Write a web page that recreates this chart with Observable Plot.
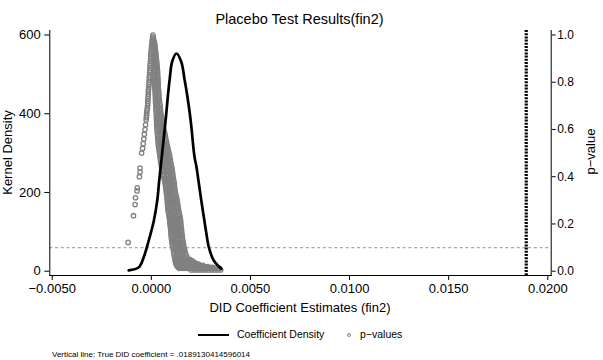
<!DOCTYPE html>
<html><head><meta charset="utf-8">
<script src="https://cdn.jsdelivr.net/npm/d3@7"></script>
<script src="https://cdn.jsdelivr.net/npm/@observablehq/plot@0.6"></script>
<style>
body{margin:0;background:#fff;}
#wrap{position:relative;width:603px;height:360px;overflow:hidden;font-family:"Liberation Sans",Arial,Helvetica,sans-serif;}
.t{position:absolute;white-space:nowrap;line-height:1;color:#000;}
</style></head><body>
<div id="wrap"></div>
<script>
// ---- texts ----
const title = "Placebo Test Results(fin2)";
const xTitle = "DID Coefficient Estimates (fin2)";
const yTitleLeft = "Kernel Density";
const yTitleRight = "p−value";
const legendLabels = ["Coefficient Density", "p−values"];
const note = "Vertical line: True DID coefficient = .0189130414596014";

// ---- reference values ----
const trueCoef = 0.0189130414596014;
const pThreshold = 0.1;

// ---- ticks ----
const xTicks = [-0.005, 0, 0.005, 0.01, 0.015, 0.02];
const densityTicks = [0, 200, 400, 600];
const pTicks = [0, 0.2, 0.4, 0.6, 0.8, 1.0];
const densityMax = 600;   // p = 1 aligned with density = 600

// ---- kernel density of placebo coefficients ----
const densX = [-0.00114, -0.00063, -0.00038, -0.00013, 0.00013, 0.0003, 0.00039, 0.00057, 0.00074, 0.00084, 0.00093, 0.00105, 0.00127,
               0.00151, 0.00167, 0.00181, 0.00193, 0.00203, 0.00211, 0.00218, 0.00228, 0.0024, 0.00252, 0.00265, 0.00278, 0.0029, 0.00315, 0.00353];
const densY = [2, 10, 36, 78, 129, 180, 226, 311, 393, 447, 489, 532, 553,
               532, 489, 447, 405, 362, 320, 290, 264, 222, 180, 137, 95, 61, 27, 6];

// ---- p-values: negative-coefficient branch ----
const pLeftX = [0.00007, 0.00005, 0.00004, 0.00002, 0.00001, 0.0, -0.00001, -0.00002, -0.00002, -0.00003, -0.00004, -0.00005,
                -0.00006, -0.00007, -0.00007, -0.00008, -0.00009, -0.0001, -0.0001, -0.00011, -0.00012, -0.00013, -0.00014, -0.00015,
                -0.00015, -0.00016, -0.00017, -0.00018, -0.00018, -0.00019, -0.0002, -0.00022, -0.00023, -0.00024, -0.00025,
                -0.00026, -0.00029, -0.00032, -0.00035, -0.00038, -0.00041, -0.00044, -0.00049,
                -0.00057, -0.00057, -0.0006, -0.00071, -0.00072, -0.0008, -0.00082, -0.0009, -0.00117];
const pLeftP = [0.99, 0.98, 0.97, 0.96, 0.95, 0.94, 0.93, 0.92, 0.91, 0.90, 0.89, 0.88,
                0.87, 0.86, 0.85, 0.84, 0.83, 0.82, 0.81, 0.80, 0.79, 0.78, 0.77, 0.76,
                0.75, 0.74, 0.73, 0.72, 0.71, 0.70, 0.69, 0.68, 0.67, 0.66, 0.65,
                0.64, 0.62, 0.60, 0.58, 0.56, 0.54, 0.52, 0.50,
                0.437, 0.42, 0.40, 0.353, 0.34, 0.311, 0.282, 0.235, 0.122];

// ---- p-values: dense positive-coefficient band, rows of [p, coefficients...] ----
const pBandRows = [
  [1.00, 0.00008],
  [0.99, 0.00009],
  [0.98, 0.00009, 0.00012],
  [0.97, 0.0001, 0.00015],
  [0.96, 0.0001, 0.00018],
  [0.95, 0.00011, 0.00019],
  [0.94, 0.00011, 0.0002],
  [0.93, 0.00011, 0.00017, 0.00022],
  [0.92, 0.00011, 0.00023],
  [0.91, 0.00011, 0.00018, 0.00024],
  [0.90, 0.00011, 0.00025],
  [0.89, 0.00012, 0.00019, 0.00027],
  [0.88, 0.00012, 0.00028],
  [0.87, 0.00013, 0.0002, 0.00029],
  [0.86, 0.00013, 0.0003],
  [0.85, 0.00014, 0.00022, 0.00031],
  [0.84, 0.00014, 0.00032],
  [0.83, 0.00015, 0.00024, 0.00032],
  [0.82, 0.00015, 0.00033],
  [0.81, 0.00016, 0.00025, 0.00034],
  [0.80, 0.00017, 0.00034],
  [0.79, 0.00017, 0.00026, 0.00035],
  [0.78, 0.00018, 0.00035],
  [0.77, 0.00018, 0.00027, 0.00036],
  [0.76, 0.00019, 0.00037],
  [0.75, 0.0002, 0.00029, 0.00038],
  [0.74, 0.0002, 0.00039],
  [0.73, 0.00021, 0.0003, 0.0004],
  [0.72, 0.00021, 0.00041],
  [0.71, 0.00022, 0.00032, 0.00043],
  [0.70, 0.00023, 0.00044],
  [0.69, 0.00023, 0.00034, 0.00045],
  [0.68, 0.00024, 0.00046],
  [0.67, 0.00025, 0.00036, 0.00048],
  [0.66, 0.00025, 0.00038, 0.0005],
  [0.65, 0.00026, 0.00033, 0.00045, 0.00052],
  [0.64, 0.00026, 0.0004, 0.00054],
  [0.63, 0.00027, 0.00035, 0.00048, 0.00056],
  [0.62, 0.00027, 0.00043, 0.00059],
  [0.61, 0.00028, 0.00037, 0.00052, 0.00061],
  [0.60, 0.00029, 0.00046, 0.00063],
  [0.59, 0.0003, 0.0004, 0.00056, 0.00066],
  [0.58, 0.00031, 0.0005, 0.00069],
  [0.57, 0.00032, 0.00043, 0.0006, 0.00071],
  [0.56, 0.00033, 0.00053, 0.00073],
  [0.55, 0.00034, 0.00043, 0.00057, 0.00071, 0.00076],
  [0.54, 0.00035, 0.0005, 0.00064, 0.00078],
  [0.53, 0.00036, 0.00045, 0.00061, 0.00076, 0.00081],
  [0.52, 0.00038, 0.00053, 0.00069, 0.00084],
  [0.51, 0.0004, 0.0005, 0.00065, 0.0008, 0.00086],
  [0.50, 0.00041, 0.00058, 0.00073, 0.00089],
  [0.49, 0.00043, 0.0005, 0.00066, 0.00081, 0.00092],
  [0.48, 0.00045, 0.00062, 0.00078, 0.00094],
  [0.47, 0.00046, 0.00054, 0.0007, 0.00086, 0.00096],
  [0.46, 0.00048, 0.00065, 0.00082, 0.00098],
  [0.45, 0.0005, 0.00057, 0.00074, 0.0009, 0.001],
  [0.44, 0.00052, 0.00069, 0.00086, 0.00103],
  [0.43, 0.00054, 0.00061, 0.00078, 0.00095, 0.00105],
  [0.42, 0.00056, 0.00073, 0.0009, 0.00107],
  [0.41, 0.0006, 0.00065, 0.00082, 0.00099, 0.00108],
  [0.40, 0.00063, 0.00079, 0.00095, 0.0011],
  [0.39, 0.00065, 0.00071, 0.00087, 0.00103, 0.00112],
  [0.38, 0.00068, 0.00083, 0.00098, 0.00114],
  [0.37, 0.0007, 0.00076, 0.00091, 0.00106, 0.00116],
  [0.36, 0.00072, 0.00087, 0.00102, 0.00117],
  [0.35, 0.00073, 0.00082, 0.00097, 0.00112, 0.00118],
  [0.34, 0.00075, 0.0009, 0.00105, 0.0012],
  [0.33, 0.00076, 0.00085, 0.001, 0.00115, 0.00122],
  [0.32, 0.00078, 0.00093, 0.00109, 0.00125],
  [0.31, 0.00079, 0.00088, 0.00104, 0.0012, 0.00128],
  [0.30, 0.0008, 0.00096, 0.00113, 0.0013],
  [0.29, 0.00081, 0.0009, 0.00106, 0.00123, 0.00132],
  [0.28, 0.00082, 0.00099, 0.00117, 0.00134],
  [0.27, 0.00083, 0.00093, 0.00111, 0.00128, 0.00135],
  [0.26, 0.00084, 0.00102, 0.0012, 0.00137],
  [0.25, 0.00086, 0.00097, 0.00115, 0.00133, 0.0014],
  [0.24, 0.00088, 0.00106, 0.00124, 0.00142],
  [0.23, 0.0009, 0.00099, 0.00113, 0.00127, 0.0014, 0.00145],
  [0.22, 0.00092, 0.00106, 0.0012, 0.00134, 0.00147],
  [0.21, 0.00093, 0.00101, 0.00115, 0.00129, 0.00143, 0.00148],
  [0.20, 0.00094, 0.00108, 0.00122, 0.00136, 0.00149],
  [0.19, 0.00096, 0.00104, 0.00118, 0.00132, 0.00146, 0.0015],
  [0.18, 0.00097, 0.00111, 0.00125, 0.00139, 0.00152],
  [0.17, 0.00098, 0.00106, 0.0012, 0.00134, 0.00147, 0.00153],
  [0.16, 0.00099, 0.00113, 0.00127, 0.0014, 0.00154],
  [0.15, 0.001, 0.00108, 0.00122, 0.00136, 0.0015, 0.00156],
  [0.14, 0.00101, 0.00115, 0.00129, 0.00143, 0.00157],
  [0.13, 0.00103, 0.00111, 0.00125, 0.0014, 0.00154, 0.00159],
  [0.12, 0.00104, 0.00118, 0.00132, 0.00147, 0.00161],
  [0.11, 0.00106, 0.0012, 0.0013, 0.00144, 0.00157, 0.00163],
  [0.10, 0.00109, 0.00123, 0.00137, 0.0015, 0.00164],
  [0.09, 0.00111, 0.0012, 0.00135, 0.00149, 0.00163, 0.00168],
  [0.08, 0.00113, 0.00127, 0.00142, 0.00156, 0.00171],
  [0.07, 0.00115, 0.0013, 0.00145, 0.0016, 0.00175],
  [0.06, 0.00117, 0.00133, 0.00149, 0.00164, 0.0018],
  [0.05, 0.0012, 0.00134, 0.00148, 0.00163, 0.00178, 0.00193],
  [0.045, 0.00121, 0.0013, 0.00145, 0.0016, 0.00175, 0.0019, 0.00205],
  [0.04, 0.00122, 0.00137, 0.00152, 0.00168, 0.00183, 0.00198, 0.00213],
  [0.035, 0.00124, 0.00132, 0.00147, 0.00162, 0.00177, 0.00192, 0.00207, 0.0022],
  [0.03, 0.00125, 0.0014, 0.00155, 0.0017, 0.00185, 0.002, 0.00215, 0.0023, 0.00238],
  [0.025, 0.00128, 0.00135, 0.0015, 0.00165, 0.0018, 0.00195, 0.0021, 0.00225, 0.0024, 0.0026],
  [0.02, 0.00132, 0.00147, 0.00162, 0.00177, 0.00192, 0.00207, 0.00222, 0.00237, 0.00252, 0.00267, 0.00283],
  [0.016, 0.00137, 0.0015, 0.00165, 0.0018, 0.00195, 0.0021, 0.00225, 0.0024, 0.00255, 0.0027, 0.00285, 0.003, 0.0031],
  [0.012, 0.00142, 0.00157, 0.00172, 0.00187, 0.00202, 0.00217, 0.00232, 0.00247, 0.00262, 0.00277, 0.00292, 0.00307, 0.00322, 0.00337, 0.00344],
  [0.005, 0.002, 0.00215, 0.0023, 0.00245, 0.0026, 0.00275, 0.0029, 0.00305, 0.0032, 0.00335, 0.0035]
];

// ---- build tables ----
const density = densX.map((x, i) => ({x, y: densY[i]}));
const pvals = [
  ...pLeftX.map((x, i) => ({x, p: pLeftP[i]})),
  ...pBandRows.flatMap(([p, ...xs]) => xs.map(x => ({x, p})))
];
const FONT = '"Liberation Sans", Arial, Helvetica, sans-serif';

const chart = Plot.plot({
  width: 603, height: 360,
  marginTop: 30, marginBottom: 85, marginLeft: 49.3, marginRight: 52.3,
  style: {fontFamily: FONT, fontSize: "13px", background: "transparent", color: "#000", overflow: "visible"},
  x: {domain: [-0.005, 0.02], range: [51.7, 547.3]},
  y: {domain: [0, densityMax], range: [270.7, 34.5]},
  marks: [
    Plot.ruleY([pThreshold * densityMax], {stroke: "#a8a8a8", strokeWidth: 1.2, strokeDasharray: "3,2.7"}),
    Plot.ruleX([trueCoef], {stroke: "#000", strokeWidth: 3.2, strokeDasharray: "2,1.2"}),
    Plot.dot(pvals, {x: "x", y: d => d.p * densityMax, r: 2.2, stroke: "#808080", strokeWidth: 1.3, fill: "none"}),
    Plot.line(density, {x: "x", y: "y", stroke: "#000", strokeWidth: 2.7, curve: "catmull-rom"}),
    Plot.axisX({ticks: xTicks, tickFormat: d3.format(".4f"), tickSize: 5, tickPadding: 3, label: null}),
    Plot.axisY({anchor: "left", ticks: densityTicks, tickSize: 5, tickPadding: 4, label: null}),
    Plot.axisY({anchor: "right", ticks: pTicks.map(p => p * densityMax), tickFormat: d => (d / densityMax).toFixed(1), tickSize: 4, tickPadding: 2, label: null, fontSize: 12}),
    Plot.frame({anchor: "left"}),
    Plot.frame({anchor: "bottom"}),
    Plot.frame({anchor: "right"})
  ]
});
const wrap = document.getElementById("wrap");
chart.style.position = "absolute";
chart.style.left = "0px";
chart.style.top = "0px";
wrap.appendChild(chart);

function addText(txt, css) {
  const d = document.createElement("div");
  d.className = "t";
  d.textContent = txt;
  Object.assign(d.style, css);
  wrap.appendChild(d);
  return d;
}
addText(title, {left: "0px", width: "599px", textAlign: "center", top: "11.7px", fontSize: "14.5px"});
addText(xTitle, {left: "0px", width: "600px", textAlign: "center", top: "300.5px", fontSize: "13px"});
addText(yTitleLeft, {left: "-93px", width: "200px", textAlign: "center", top: "146.1px", height: "13px", fontSize: "13px", transform: "rotate(-90deg)"});
addText(yTitleRight, {left: "490px", width: "200px", textAlign: "center", top: "145px", height: "13px", fontSize: "13px", transform: "rotate(-90deg)"});
// legend
const sw = document.createElement("div");
Object.assign(sw.style, {position: "absolute", left: "198px", top: "334px", width: "31px", height: "2.2px", background: "#000"});
wrap.appendChild(sw);
addText(legendLabels[0], {left: "237px", top: "329.4px", fontSize: "10.5px"});
const cs = document.createElement("div");
Object.assign(cs.style, {position: "absolute", left: "347.4px", top: "333.1px", width: "4px", height: "4px", border: "1px solid #808080", borderRadius: "50%", boxSizing: "border-box"});
wrap.appendChild(cs);
addText(legendLabels[1], {left: "360px", top: "329.4px", fontSize: "10.5px"});
addText(note, {left: "52px", top: "350.5px", fontSize: "8px"});
</script>
</body></html>
